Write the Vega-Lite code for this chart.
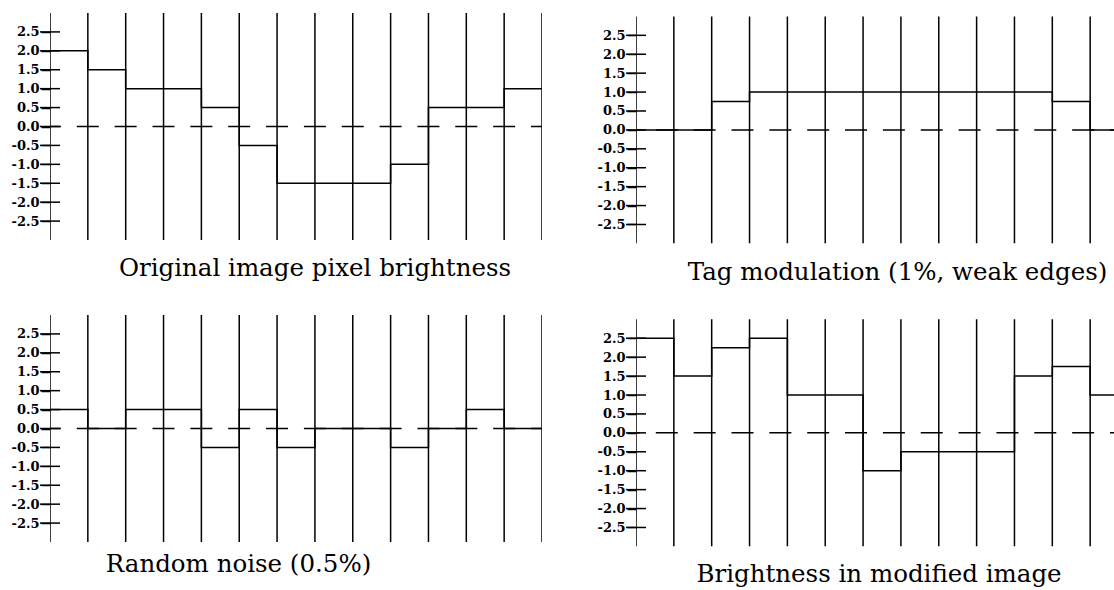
{
  "$schema": "https://vega.github.io/schema/vega-lite/v6.json",
  "background": "white",
  "padding": {"left": 10, "top": 13, "right": 0, "bottom": 0},
  "autosize": {"type": "pad"},
  "datasets": {
    "steps": [
      {"panel": "A", "x": 0, "v": 2}, {"panel": "A", "x": 1, "v": 1.5}, {"panel": "A", "x": 2, "v": 1}, {"panel": "A", "x": 3, "v": 1}, {"panel": "A", "x": 4, "v": 0.5}, {"panel": "A", "x": 5, "v": -0.5}, {"panel": "A", "x": 6, "v": -1.5}, {"panel": "A", "x": 7, "v": -1.5}, {"panel": "A", "x": 8, "v": -1.5}, {"panel": "A", "x": 9, "v": -1}, {"panel": "A", "x": 10, "v": 0.5}, {"panel": "A", "x": 11, "v": 0.5}, {"panel": "A", "x": 12, "v": 1}, {"panel": "A", "x": 13, "v": 1},
      {"panel": "B", "x": 0, "v": 0}, {"panel": "B", "x": 1, "v": 0}, {"panel": "B", "x": 2, "v": 0.75}, {"panel": "B", "x": 3, "v": 1}, {"panel": "B", "x": 4, "v": 1}, {"panel": "B", "x": 5, "v": 1}, {"panel": "B", "x": 6, "v": 1}, {"panel": "B", "x": 7, "v": 1}, {"panel": "B", "x": 8, "v": 1}, {"panel": "B", "x": 9, "v": 1}, {"panel": "B", "x": 10, "v": 1}, {"panel": "B", "x": 11, "v": 0.75}, {"panel": "B", "x": 12, "v": 0}, {"panel": "B", "x": 13, "v": 0},
      {"panel": "C", "x": 0, "v": 0.5}, {"panel": "C", "x": 1, "v": 0}, {"panel": "C", "x": 2, "v": 0.5}, {"panel": "C", "x": 3, "v": 0.5}, {"panel": "C", "x": 4, "v": -0.5}, {"panel": "C", "x": 5, "v": 0.5}, {"panel": "C", "x": 6, "v": -0.5}, {"panel": "C", "x": 7, "v": 0}, {"panel": "C", "x": 8, "v": 0}, {"panel": "C", "x": 9, "v": -0.5}, {"panel": "C", "x": 10, "v": 0}, {"panel": "C", "x": 11, "v": 0.5}, {"panel": "C", "x": 12, "v": 0}, {"panel": "C", "x": 13, "v": 0},
      {"panel": "D", "x": 0, "v": 2.5}, {"panel": "D", "x": 1, "v": 1.5}, {"panel": "D", "x": 2, "v": 2.25}, {"panel": "D", "x": 3, "v": 2.5}, {"panel": "D", "x": 4, "v": 1}, {"panel": "D", "x": 5, "v": 1}, {"panel": "D", "x": 6, "v": -1}, {"panel": "D", "x": 7, "v": -0.5}, {"panel": "D", "x": 8, "v": -0.5}, {"panel": "D", "x": 9, "v": -0.5}, {"panel": "D", "x": 10, "v": 1.5}, {"panel": "D", "x": 11, "v": 1.75}, {"panel": "D", "x": 12, "v": 1}, {"panel": "D", "x": 13, "v": 1}
    ],
    "grid": [{"x": 0}, {"x": 1}, {"x": 2}, {"x": 3}, {"x": 4}, {"x": 5}, {"x": 6}, {"x": 7}, {"x": 8}, {"x": 9}, {"x": 10}, {"x": 11}, {"x": 12}, {"x": 13}],
    "ticks": [{"v": -2.5}, {"v": -2}, {"v": -1.5}, {"v": -1}, {"v": -0.5}, {"v": 0}, {"v": 0.5}, {"v": 1}, {"v": 1.5}, {"v": 2}, {"v": 2.5}],
    "zero": [{"v": 0}]
  },
  "columns": 2,
  "spacing": {"row": 30, "column": 53},
  "concat": [
    {
      "width": 492, "height": 227,
      "title": {"text": "Original image pixel brightness", "orient": "bottom", "anchor": "middle", "dx": 19, "offset": 16.5},
      "layer": [
        {"data": {"name": "grid"}, "mark": {"type": "rule", "stroke": "black", "strokeWidth": 1.5, "clip": true},
         "encoding": {
           "x": {"field": "x", "type": "quantitative", "scale": {"domain": [0, 13], "nice": false, "zero": false}, "axis": null},
           "y": {"datum": -3, "type": "quantitative", "scale": {"domain": [-3, 3], "nice": false, "zero": false},
                 "axis": {"title": null, "labelOverlap": false, "values": [-2.5, -2, -1.5, -1, -0.5, 0, 0.5, 1, 1.5, 2, 2.5], "labelExpr": "(datum.value < 0 ? '-' : '') + format(abs(datum.value), '.1f')", "domain": false, "grid": false, "ticks": true, "tickSize": 9, "tickWidth": 1.5, "tickColor": "black", "labelFont": "DejaVu Serif", "labelFontSize": 13, "labelFontWeight": "bold", "labelColor": "black", "labelPadding": 2}},
           "y2": {"datum": 3}}},
        {"data": {"name": "zero"}, "mark": {"type": "rule", "stroke": "black", "strokeWidth": 1.5, "strokeDash": [22, 15.85], "strokeDashOffset": 11},
         "encoding": {"y": {"field": "v", "type": "quantitative",
                 "axis": {"title": null, "labelOverlap": false, "values": [-2.5, -2, -1.5, -1, -0.5, 0, 0.5, 1, 1.5, 2, 2.5], "labelExpr": "(datum.value < 0 ? '-' : '') + format(abs(datum.value), '.1f')", "domain": false, "grid": false, "ticks": true, "tickSize": 9, "tickWidth": 1.5, "tickColor": "black", "labelFont": "DejaVu Serif", "labelFontSize": 13, "labelFontWeight": "bold", "labelColor": "black", "labelPadding": 2}}}},
        {"data": {"name": "ticks"}, "mark": {"type": "tick", "orient": "horizontal", "size": 20, "thickness": 1.5, "color": "black", "opacity": 1},
         "encoding": {"x": {"datum": 0, "type": "quantitative", "axis": null}, "y": {"field": "v", "type": "quantitative",
                 "axis": {"title": null, "labelOverlap": false, "values": [-2.5, -2, -1.5, -1, -0.5, 0, 0.5, 1, 1.5, 2, 2.5], "labelExpr": "(datum.value < 0 ? '-' : '') + format(abs(datum.value), '.1f')", "domain": false, "grid": false, "ticks": true, "tickSize": 9, "tickWidth": 1.5, "tickColor": "black", "labelFont": "DejaVu Serif", "labelFontSize": 13, "labelFontWeight": "bold", "labelColor": "black", "labelPadding": 2}}}},
        {"data": {"name": "steps"}, "transform": [{"filter": "datum.panel === 'A'"}],
         "mark": {"type": "line", "interpolate": "step-after", "stroke": "black", "strokeWidth": 1.5, "clip": true},
         "encoding": {"x": {"field": "x", "type": "quantitative", "axis": null}, "y": {"field": "v", "type": "quantitative",
                 "axis": {"title": null, "labelOverlap": false, "values": [-2.5, -2, -1.5, -1, -0.5, 0, 0.5, 1, 1.5, 2, 2.5], "labelExpr": "(datum.value < 0 ? '-' : '') + format(abs(datum.value), '.1f')", "domain": false, "grid": false, "ticks": true, "tickSize": 9, "tickWidth": 1.5, "tickColor": "black", "labelFont": "DejaVu Serif", "labelFontSize": 13, "labelFontWeight": "bold", "labelColor": "black", "labelPadding": 2}}}}
      ]
    },
    {
      "width": 485, "height": 230.4,
      "title": {"text": "Tag modulation (1%, weak edges)", "orient": "bottom", "anchor": "middle", "dx": 19, "offset": 17.5},
      "layer": [
        {"data": {"name": "grid"}, "mark": {"type": "rule", "stroke": "black", "strokeWidth": 1.5, "clip": true},
         "encoding": {
           "x": {"field": "x", "type": "quantitative", "scale": {"domain": [0, 12.815], "nice": false, "zero": false}, "axis": null},
           "y": {"datum": -3, "type": "quantitative", "scale": {"domain": [-3, 3.09], "nice": false, "zero": false},
                 "axis": {"title": null, "labelOverlap": false, "values": [-2.5, -2, -1.5, -1, -0.5, 0, 0.5, 1, 1.5, 2, 2.5], "labelExpr": "(datum.value < 0 ? '-' : '') + format(abs(datum.value), '.1f')", "domain": false, "grid": false, "ticks": true, "tickSize": 9, "tickWidth": 1.5, "tickColor": "black", "labelFont": "DejaVu Serif", "labelFontSize": 13, "labelFontWeight": "bold", "labelColor": "black", "labelPadding": 2}},
           "y2": {"datum": 3}}},
        {"data": {"name": "zero"}, "mark": {"type": "rule", "stroke": "black", "strokeWidth": 1.5, "strokeDash": [22, 15.85], "strokeDashOffset": 11},
         "encoding": {"y": {"field": "v", "type": "quantitative",
                 "axis": {"title": null, "labelOverlap": false, "values": [-2.5, -2, -1.5, -1, -0.5, 0, 0.5, 1, 1.5, 2, 2.5], "labelExpr": "(datum.value < 0 ? '-' : '') + format(abs(datum.value), '.1f')", "domain": false, "grid": false, "ticks": true, "tickSize": 9, "tickWidth": 1.5, "tickColor": "black", "labelFont": "DejaVu Serif", "labelFontSize": 13, "labelFontWeight": "bold", "labelColor": "black", "labelPadding": 2}}}},
        {"data": {"name": "ticks"}, "mark": {"type": "tick", "orient": "horizontal", "size": 20, "thickness": 1.5, "color": "black", "opacity": 1},
         "encoding": {"x": {"datum": 0, "type": "quantitative", "axis": null}, "y": {"field": "v", "type": "quantitative",
                 "axis": {"title": null, "labelOverlap": false, "values": [-2.5, -2, -1.5, -1, -0.5, 0, 0.5, 1, 1.5, 2, 2.5], "labelExpr": "(datum.value < 0 ? '-' : '') + format(abs(datum.value), '.1f')", "domain": false, "grid": false, "ticks": true, "tickSize": 9, "tickWidth": 1.5, "tickColor": "black", "labelFont": "DejaVu Serif", "labelFontSize": 13, "labelFontWeight": "bold", "labelColor": "black", "labelPadding": 2}}}},
        {"data": {"name": "steps"}, "transform": [{"filter": "datum.panel === 'B'"}],
         "mark": {"type": "line", "interpolate": "step-after", "stroke": "black", "strokeWidth": 1.5, "clip": true},
         "encoding": {"x": {"field": "x", "type": "quantitative", "axis": null}, "y": {"field": "v", "type": "quantitative",
                 "axis": {"title": null, "labelOverlap": false, "values": [-2.5, -2, -1.5, -1, -0.5, 0, 0.5, 1, 1.5, 2, 2.5], "labelExpr": "(datum.value < 0 ? '-' : '') + format(abs(datum.value), '.1f')", "domain": false, "grid": false, "ticks": true, "tickSize": 9, "tickWidth": 1.5, "tickColor": "black", "labelFont": "DejaVu Serif", "labelFontSize": 13, "labelFontWeight": "bold", "labelColor": "black", "labelPadding": 2}}}}
      ]
    },
    {
      "width": 492, "height": 227,
      "title": {"text": "Random noise (0.5%)", "orient": "bottom", "anchor": "middle", "dx": -57.5, "offset": 11},
      "layer": [
        {"data": {"name": "grid"}, "mark": {"type": "rule", "stroke": "black", "strokeWidth": 1.5, "clip": true},
         "encoding": {
           "x": {"field": "x", "type": "quantitative", "scale": {"domain": [0, 13], "nice": false, "zero": false}, "axis": null},
           "y": {"datum": -3, "type": "quantitative", "scale": {"domain": [-3, 3], "nice": false, "zero": false},
                 "axis": {"title": null, "labelOverlap": false, "values": [-2.5, -2, -1.5, -1, -0.5, 0, 0.5, 1, 1.5, 2, 2.5], "labelExpr": "(datum.value < 0 ? '-' : '') + format(abs(datum.value), '.1f')", "domain": false, "grid": false, "ticks": true, "tickSize": 9, "tickWidth": 1.5, "tickColor": "black", "labelFont": "DejaVu Serif", "labelFontSize": 13, "labelFontWeight": "bold", "labelColor": "black", "labelPadding": 2}},
           "y2": {"datum": 3}}},
        {"data": {"name": "zero"}, "mark": {"type": "rule", "stroke": "black", "strokeWidth": 1.5, "strokeDash": [22, 15.85], "strokeDashOffset": 11},
         "encoding": {"y": {"field": "v", "type": "quantitative",
                 "axis": {"title": null, "labelOverlap": false, "values": [-2.5, -2, -1.5, -1, -0.5, 0, 0.5, 1, 1.5, 2, 2.5], "labelExpr": "(datum.value < 0 ? '-' : '') + format(abs(datum.value), '.1f')", "domain": false, "grid": false, "ticks": true, "tickSize": 9, "tickWidth": 1.5, "tickColor": "black", "labelFont": "DejaVu Serif", "labelFontSize": 13, "labelFontWeight": "bold", "labelColor": "black", "labelPadding": 2}}}},
        {"data": {"name": "ticks"}, "mark": {"type": "tick", "orient": "horizontal", "size": 20, "thickness": 1.5, "color": "black", "opacity": 1},
         "encoding": {"x": {"datum": 0, "type": "quantitative", "axis": null}, "y": {"field": "v", "type": "quantitative",
                 "axis": {"title": null, "labelOverlap": false, "values": [-2.5, -2, -1.5, -1, -0.5, 0, 0.5, 1, 1.5, 2, 2.5], "labelExpr": "(datum.value < 0 ? '-' : '') + format(abs(datum.value), '.1f')", "domain": false, "grid": false, "ticks": true, "tickSize": 9, "tickWidth": 1.5, "tickColor": "black", "labelFont": "DejaVu Serif", "labelFontSize": 13, "labelFontWeight": "bold", "labelColor": "black", "labelPadding": 2}}}},
        {"data": {"name": "steps"}, "transform": [{"filter": "datum.panel === 'C'"}],
         "mark": {"type": "line", "interpolate": "step-after", "stroke": "black", "strokeWidth": 1.5, "clip": true},
         "encoding": {"x": {"field": "x", "type": "quantitative", "axis": null}, "y": {"field": "v", "type": "quantitative",
                 "axis": {"title": null, "labelOverlap": false, "values": [-2.5, -2, -1.5, -1, -0.5, 0, 0.5, 1, 1.5, 2, 2.5], "labelExpr": "(datum.value < 0 ? '-' : '') + format(abs(datum.value), '.1f')", "domain": false, "grid": false, "ticks": true, "tickSize": 9, "tickWidth": 1.5, "tickColor": "black", "labelFont": "DejaVu Serif", "labelFontSize": 13, "labelFontWeight": "bold", "labelColor": "black", "labelPadding": 2}}}}
      ]
    },
    {
      "width": 485, "height": 231.4,
      "title": {"text": "Brightness in modified image", "orient": "bottom", "anchor": "middle", "dx": 0.5, "offset": 17},
      "layer": [
        {"data": {"name": "grid"}, "mark": {"type": "rule", "stroke": "black", "strokeWidth": 1.5, "clip": true},
         "encoding": {
           "x": {"field": "x", "type": "quantitative", "scale": {"domain": [0, 12.815], "nice": false, "zero": false}, "axis": null},
           "y": {"datum": -3, "type": "quantitative", "scale": {"domain": [-3, 3.114], "nice": false, "zero": false},
                 "axis": {"title": null, "labelOverlap": false, "values": [-2.5, -2, -1.5, -1, -0.5, 0, 0.5, 1, 1.5, 2, 2.5], "labelExpr": "(datum.value < 0 ? '-' : '') + format(abs(datum.value), '.1f')", "domain": false, "grid": false, "ticks": true, "tickSize": 9, "tickWidth": 1.5, "tickColor": "black", "labelFont": "DejaVu Serif", "labelFontSize": 13, "labelFontWeight": "bold", "labelColor": "black", "labelPadding": 2}},
           "y2": {"datum": 3}}},
        {"data": {"name": "zero"}, "mark": {"type": "rule", "stroke": "black", "strokeWidth": 1.5, "strokeDash": [22, 15.85], "strokeDashOffset": 11},
         "encoding": {"y": {"field": "v", "type": "quantitative",
                 "axis": {"title": null, "labelOverlap": false, "values": [-2.5, -2, -1.5, -1, -0.5, 0, 0.5, 1, 1.5, 2, 2.5], "labelExpr": "(datum.value < 0 ? '-' : '') + format(abs(datum.value), '.1f')", "domain": false, "grid": false, "ticks": true, "tickSize": 9, "tickWidth": 1.5, "tickColor": "black", "labelFont": "DejaVu Serif", "labelFontSize": 13, "labelFontWeight": "bold", "labelColor": "black", "labelPadding": 2}}}},
        {"data": {"name": "ticks"}, "mark": {"type": "tick", "orient": "horizontal", "size": 20, "thickness": 1.5, "color": "black", "opacity": 1},
         "encoding": {"x": {"datum": 0, "type": "quantitative", "axis": null}, "y": {"field": "v", "type": "quantitative",
                 "axis": {"title": null, "labelOverlap": false, "values": [-2.5, -2, -1.5, -1, -0.5, 0, 0.5, 1, 1.5, 2, 2.5], "labelExpr": "(datum.value < 0 ? '-' : '') + format(abs(datum.value), '.1f')", "domain": false, "grid": false, "ticks": true, "tickSize": 9, "tickWidth": 1.5, "tickColor": "black", "labelFont": "DejaVu Serif", "labelFontSize": 13, "labelFontWeight": "bold", "labelColor": "black", "labelPadding": 2}}}},
        {"data": {"name": "steps"}, "transform": [{"filter": "datum.panel === 'D'"}],
         "mark": {"type": "line", "interpolate": "step-after", "stroke": "black", "strokeWidth": 1.5, "clip": true},
         "encoding": {"x": {"field": "x", "type": "quantitative", "axis": null}, "y": {"field": "v", "type": "quantitative",
                 "axis": {"title": null, "labelOverlap": false, "values": [-2.5, -2, -1.5, -1, -0.5, 0, 0.5, 1, 1.5, 2, 2.5], "labelExpr": "(datum.value < 0 ? '-' : '') + format(abs(datum.value), '.1f')", "domain": false, "grid": false, "ticks": true, "tickSize": 9, "tickWidth": 1.5, "tickColor": "black", "labelFont": "DejaVu Serif", "labelFontSize": 13, "labelFontWeight": "bold", "labelColor": "black", "labelPadding": 2}}}}
      ]
    }
  ],
  "config": {
    "view": {"stroke": null},
    "font": "DejaVu Serif",
    "title": {"font": "DejaVu Serif", "fontSize": 24.5, "fontWeight": "normal", "color": "black"},
    "axis": {"domain": false, "grid": false, "labelOverlap": false}
  }
}
